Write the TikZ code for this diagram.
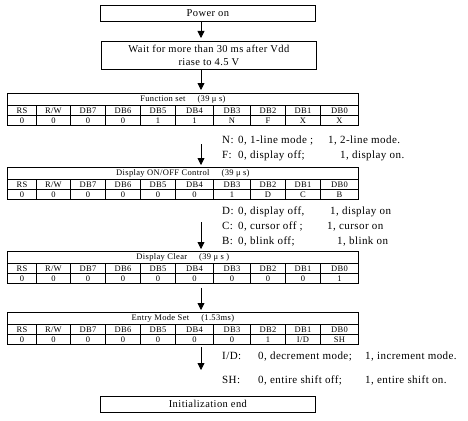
\documentclass[tikz,border=0pt]{standalone}
\usepackage{fontspec}
\setmainfont{Liberation Serif}
\newfontfamily\spacedfont{Liberation Serif}[LetterSpace=4]
\usetikzlibrary{arrows.meta}
\tikzset{
  box/.style={draw, line width=0.8pt, inner sep=0pt, anchor=north west, align=center, font=\spacedfont\fontsize{10.5}{12.5}\selectfont},
  cell/.style={draw, line width=0.8pt, inner sep=0pt, anchor=north west, font=\spacedfont\fontsize{8.5}{9}\selectfont},
  note/.style={anchor=west, inner sep=0pt, text height=7.5pt, text depth=2.5pt, font=\spacedfont\fontsize{11}{13}\selectfont},
  arr/.style={-{Triangle[width=7pt,length=7pt]}, line width=0.8pt}
}
\newcommand\regtable[4]{%
  \node[cell, minimum width=351pt, minimum height=12pt] (#1t) at (7,#2) {#3};
  \foreach \h [count=\i] in {RS,R/W,DB7,DB6,DB5,DB4,DB3,DB2,DB1,DB0} {
    \pgfmathsetmacro\colx{{7,36,70,105,140,175,213,250,285,320}[\i-1]}
    \pgfmathsetmacro\colw{{29,34,35,35,35,38,37,35,35,38}[\i-1]}
    \node[cell, minimum width=\colw pt, minimum height=10pt] (#1h\i) at (\colx,#2+12) {\h};
  }
  \foreach \v [count=\i] in {#4} {
    \pgfmathsetmacro\colx{{7,36,70,105,140,175,213,250,285,320}[\i-1]}
    \pgfmathsetmacro\colw{{29,34,35,35,35,38,37,35,35,38}[\i-1]}
    \node[cell, minimum width=\colw pt, minimum height=10pt] (#1v\i) at (\colx,#2+22) {\v};
  }
}
\begin{document}
\begin{tikzpicture}[x=1pt,y=-1pt]
\useasboundingbox (0,0) rectangle (468,420);
\coordinate (ax) at (201,0);
% boxes
\node[box, minimum width=215pt, minimum height=16pt] (pw) at (100,5) {Power on};
\node[box, minimum width=215pt, minimum height=28pt] (wt) at (101,41) {Wait for more than 30 ms after Vdd\\riase to 4.5 V};
\node[box, minimum width=215pt, minimum height=16pt] (ie) at (100,396) {Initialization end};
% tables
\regtable{ta}{93}{Function set\hspace{12pt}(39 μ s)}{0,0,0,0,1,1,N,F,X,X}
\regtable{tb}{167}{Display ON/OFF Control\hspace{12pt}(39 μ s)}{0,0,0,0,0,0,1,D,C,B}
\regtable{tc}{251}{Display Clear\hspace{12pt}(39 μ s )}{0,0,0,0,0,0,0,0,0,1}
\regtable{td}{312}{Entry Mode Set\hspace{12pt}(1.53ms)}{0,0,0,0,0,0,0,1,I/D,SH}
% notes
\node[note] (nN) at (222,141) {N:};
\node[note] (nN1) at (238,141) {0, 1-line mode ;};
\node[note] (nN2) at (328,141) {1, 2-line mode.};
\node[note] (nF) at (222,156) {F:};
\node[note] (nF1) at (238,156) {0, display off;};
\node[note] (nF2) at (340,156) {1, display on.};
\node[note] (nD) at (222,212) {D:};
\node[note] (nD1) at (238,212) {0, display off,};
\node[note] (nD2) at (330,212) {1, display on};
\node[note] (nC) at (222,227) {C:};
\node[note] (nC1) at (238,227) {0, cursor off ;};
\node[note] (nC2) at (327,227) {1, cursor on};
\node[note] (nB) at (222,242) {B:};
\node[note] (nB1) at (238,242) {0, blink off;};
\node[note] (nB2) at (337,242) {1, blink on};
\node[note] (nI) at (222,357) {I/D:};
\node[note] (nI1) at (258,357) {0, decrement mode;};
\node[note] (nI2) at (365,357) {1, increment mode.};
\node[note] (nS) at (222,381) {SH:};
\node[note] (nS1) at (258,381) {0, entire shift off;};
\node[note] (nS2) at (365,381) {1, entire shift on.};
% arrows
\coordinate (a1) at (201,144);
\coordinate (a2) at (201,222);
\coordinate (a3) at (201,347);
\coordinate (a4) at (201,370);
\draw[arr, shorten >=3pt] (pw.south -| ax) -- (wt.north -| ax);
\draw[arr, shorten >=3pt] (wt.south -| ax) -- (tat.north -| ax);
\draw[arr, shorten >=2pt] (a1) -- (tbt.north -| ax);
\draw[arr, shorten >=2pt] (a2) -- (tct.north -| ax);
\draw[arr, shorten <=4pt, shorten >=2pt] (tcv1.south -| ax) -- (tdt.north -| ax);
\draw[arr] (a3) -- (a4);
\end{tikzpicture}
\end{document}
